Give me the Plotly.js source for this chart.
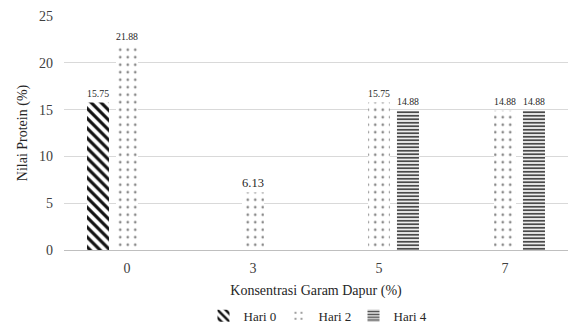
<!DOCTYPE html>
<html>
<head>
<meta charset="utf-8">
<script src="https://cdn.plot.ly/plotly-3.0.1.min.js"></script>
<style>
  html, body { margin: 0; padding: 0; background: #fff; }
  #chart { width: 568px; height: 327px; }
</style>
</head>
<body>
<div id="chart"></div>
<script>
// Salt concentration (%) on the x axis
const categories = ['0', '3', '5', '7'];
// Protein value (%) per storage day; null where no bar is drawn
const hari0 = [15.75, null, null, null];
const hari2 = [21.88, 6.13, 15.75, 14.88];
const hari4 = [null, null, 14.88, 14.88];
const seriesNames = ['Hari 0', 'Hari 2', 'Hari 4'];

const serif = '"Liberation Serif", "Times New Roman", Times, serif';

function labels(vals) {
  return vals.map(v => (v === null ? '' : v.toFixed(2)));
}

function barTrace(name, vals, pattern) {
  return {
    type: 'bar',
    name: name,
    x: categories,
    y: vals,
    text: labels(vals),
    textposition: 'outside',
    cliponaxis: false,
    textfont: { family: serif, size: 12.5, color: '#262626' },
    marker: {
      color: 'white',
      line: { width: 0 },
      pattern: pattern
    },
    hoverinfo: 'x+y'
  };
}

const traces = [
  barTrace(seriesNames[0], hari0, { shape: '\\', fgcolor: '#111', bgcolor: 'white', size: 7, solidity: 0.45, fillmode: 'replace' }),
  barTrace(seriesNames[1], hari2, { shape: '.', fgcolor: '#8a8a8a', bgcolor: 'white', size: 7.5, solidity: 0.1, fillmode: 'replace' }),
  barTrace(seriesNames[2], hari4, { shape: '-', fgcolor: '#4a4a4a', bgcolor: 'white', size: 3.5, solidity: 0.55, fillmode: 'replace' })
];

const layout = {
  width: 568,
  height: 327,
  margin: { l: 64, r: 0, t: 16, b: 77 },
  paper_bgcolor: 'white',
  plot_bgcolor: 'white',
  barmode: 'group',
  bargap: 0.31,
  bargroupgap: 0.24,
  font: { family: serif, size: 13, color: '#404040' },
  xaxis: {
    type: 'category',
    tickfont: { family: serif, size: 14, color: '#404040' },
    ticklabelstandoff: 8,
    showgrid: false,
    showline: false,
    zeroline: false,
    automargin: false,
    title: { text: 'Konsentrasi Garam Dapur (%)', font: { family: serif, size: 14, color: '#262626' }, standoff: 10 }
  },
  yaxis: {
    range: [0, 25],
    dtick: 5,
    tickfont: { family: serif, size: 14, color: '#404040' },
    ticklabelstandoff: 10,
    showgrid: true,
    gridcolor: '#d9d9d9',
    gridwidth: 1,
    zeroline: true,
    zerolinecolor: '#bfbfbf',
    zerolinewidth: 1,
    showline: false,
    automargin: false,
    title: { text: 'Nilai Protein (%)', font: { family: serif, size: 14, color: '#262626' }, standoff: 8 }
  },
  showlegend: true,
  legend: {
    orientation: 'h',
    x: 0.5,
    xanchor: 'center',
    yref: 'container',
    y: 0.08,
    yanchor: 'top',
    font: { family: serif, size: 13, color: '#262626' },
    entrywidth: 30,
    itemwidth: 30,
    bgcolor: 'rgba(0,0,0,0)'
  }
};

Plotly.newPlot('chart', traces, layout, { displayModeBar: false, staticPlot: true });
</script>
</body>
</html>
